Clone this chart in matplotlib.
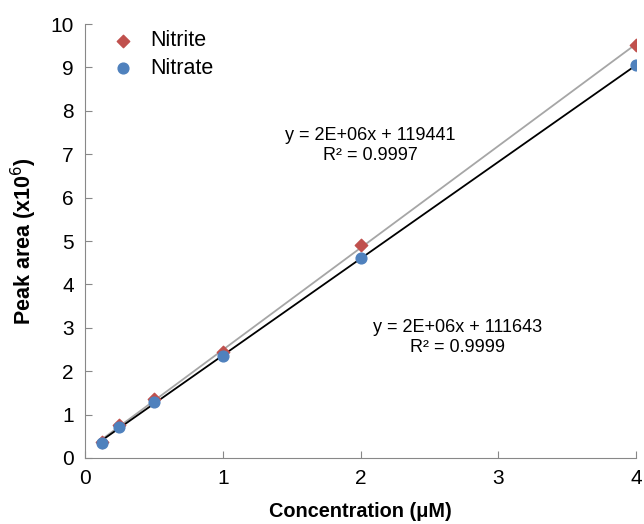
import numpy as np
import matplotlib
matplotlib.use('Agg')
import matplotlib.pyplot as plt

plt.rcParams['font.family'] = ['Liberation Sans', 'DejaVu Sans']

conc = [0.125, 0.25, 0.5, 1, 2, 4]
nitrite = [0.37, 0.75, 1.37, 2.45, 4.90, 9.52]
nitrate = [0.34, 0.72, 1.30, 2.36, 4.60, 9.05]

nitrite_eq = 'y = 2E+06x + 119441\nR² = 0.9997'
nitrate_eq = 'y = 2E+06x + 111643\nR² = 0.9999'

fig = plt.figure(figsize=(6.44, 5.24), dpi=100)
ax = fig.add_axes([0.132, 0.126, 0.856, 0.828])

x = np.array(conc)
xs = np.array([x.min(), x.max()])

# linear trendlines
p1 = np.polyfit(x, nitrite, 1)
p2 = np.polyfit(x, nitrate, 1)
ax.plot(xs, np.polyval(p1, xs), color='#A6A6A6', lw=1.3, zorder=2)
ax.plot(xs, np.polyval(p2, xs), color='black', lw=1.3, zorder=2)

ax.scatter(x, nitrite, marker='D', s=40, color='#C0504D', label='Nitrite', zorder=3)
ax.scatter(x, nitrate, marker='o', s=60, color='#4F81BD', label='Nitrate', zorder=4)

ax.text(2.07, 7.20, nitrite_eq, ha='center', va='center', fontsize=13, linespacing=1.2)
ax.text(2.70, 2.78, nitrate_eq, ha='center', va='center', fontsize=13, linespacing=1.2)

ax.set_xlim(0, 4)
ax.set_ylim(0, 10)
ax.set_xticks([0, 1, 2, 3, 4])
ax.set_yticks(range(0, 11))
ax.tick_params(direction='in', length=5, color='#888888', labelsize=15, pad=8)
for s in ['top', 'right']:
    ax.spines[s].set_visible(False)
for s in ['left', 'bottom']:
    ax.spines[s].set_color('#888888')

ax.set_xlabel('Concentration (μM)', fontsize=14.3, fontweight='bold', labelpad=10)
ax.set_ylabel('Peak area (x10$^6$)', fontsize=15.5, fontweight='bold', labelpad=8)

ax.legend(loc='upper left', bbox_to_anchor=(-0.005, 1.03), frameon=False, fontsize=15.5,
          handletextpad=0.25, labelspacing=0.3, scatterpoints=1)

fig.savefig('out.png', dpi=100)
